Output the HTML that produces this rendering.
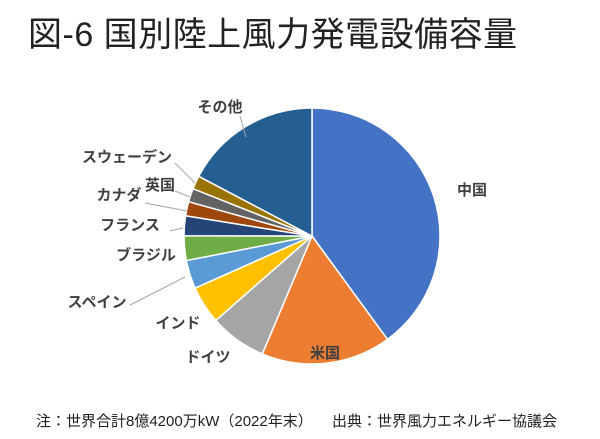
<!DOCTYPE html>
<html><head><meta charset="utf-8"><style>
body{margin:0;background:#fff;width:600px;height:439px;overflow:hidden;font-family:"Liberation Sans","Noto Sans CJK JP",sans-serif}
</style></head><body>
<svg width="600" height="439" id="c" style="position:absolute;left:0;top:0">
<text x="28" y="46" font-size="34" letter-spacing="0.5" fill="#222">図-6 国別陸上風力発電設備容量</text>
<text x="36" y="426" font-size="15" fill="#222">注：世界合計8億4200万kW（2022年末）</text>
<text x="332" y="426" font-size="15" fill="#222">出典：世界風力エネルギー協議会</text>
<g id="slices"></g><g id="lbls"></g>
</svg>
<script>
const categories=["中国","米国","ドイツ","インド","スペイン","ブラジル","フランス","カナダ","英国","スウェーデン","その他"];
const values=[40,16.4,7.2,4.8,3.6,3.1,2.5,1.8,1.7,1.7,17.3];
const colors=["#4472c4","#ed7d31","#a5a5a5","#ffc000","#5b9bd5","#70ad47","#264478","#9e480e","#636363","#997300","#255e91"];
const labelPos=[[472,195,"middle"],[325,358,"middle"],[208,362,"middle"],[178,328,"middle"],[97,307,"middle"],[146,260,"middle"],[130,230,"middle"],[119,200,"middle"],[160,190,"middle"],[127,162,"middle"],[220,112,"middle"]];
const leaders=[null,null,null,null,[130,305,185,277],null,[170,231,183,228],[145,203,187,211],[175,191,190,197],[175,163,195,183],[240,116,246,137]];
const cx=312,cy=236,r=128,ns="http://www.w3.org/2000/svg";
const total=values.reduce((a,b)=>a+b,0);
function pt(a,rr){return [cx+rr*Math.sin(a),cy-rr*Math.cos(a)];}
let a0=0;const g=document.getElementById('slices'),lg=document.getElementById('lbls');
values.forEach((v,i)=>{
 const a1=a0+v/total*2*Math.PI;
 const p0=pt(a0,r),p1=pt(a1,r);
 const p=document.createElementNS(ns,'path');
 p.setAttribute('d',`M${cx},${cy}L${p0[0]},${p0[1]}A${r},${r} 0 ${a1-a0>Math.PI?1:0} 1 ${p1[0]},${p1[1]}Z`);
 p.setAttribute('fill',colors[i]);p.setAttribute('stroke','#fff');p.setAttribute('stroke-width','1.5');
 
 
 g.appendChild(p);
 const L=leaders[i];
 if(L){const l=document.createElementNS(ns,'polyline');
  l.setAttribute('points',`${L[0]},${L[1]} ${L[2]},${L[3]}`);l.setAttribute('stroke','#a6a6a6');l.setAttribute('fill','none');
  
  
  lg.appendChild(l);}
 const t=document.createElementNS(ns,'text');
 t.setAttribute('x',labelPos[i][0]);t.setAttribute('y',labelPos[i][1]);t.setAttribute('text-anchor',labelPos[i][2]);
 t.setAttribute('font-size','15');t.setAttribute('font-weight','bold');t.setAttribute('fill','#404040');
 t.textContent=categories[i];
 
 
 lg.appendChild(t);
 a0=a1;
});
</script>
</body></html>
